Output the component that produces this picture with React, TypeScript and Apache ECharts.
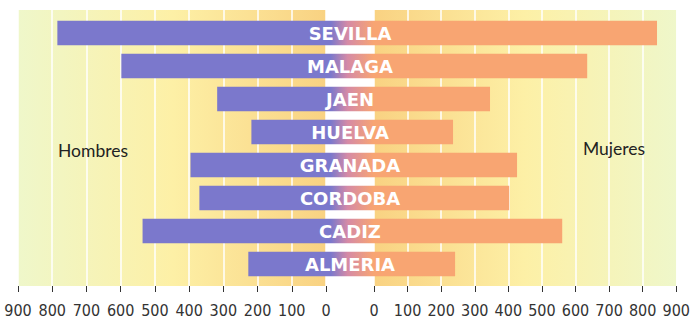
import React, { useEffect, useRef } from "react";
import * as echarts from "echarts";

const categories = ["SEVILLA", "MALAGA", "JAEN", "HUELVA", "GRANADA", "CORDOBA", "CADIZ", "ALMERIA"];
const hombres = [785, 598, 318, 218, 396, 370, 536, 227];
const mujeres = [827, 623, 339, 231, 418, 395, 550, 237];
const connector = [1, 1, 1, 1, 1, 1, 1, 1];
const axisMin = 0;
const axisMax = 900;
const axisStep = 100;

const PURPLE = "#7b78cc";
const ORANGE = "#f8a572";
const tickFont = "'Liberation Sans Narrow', 'DejaVu Sans Condensed', Lato, sans-serif";

export default function App() {
  const ref = useRef<HTMLDivElement>(null);
  useEffect(() => {
    if (!ref.current) return;
    const chart = echarts.init(ref.current, null, { renderer: "svg" });
    const bgLeft = new echarts.graphic.LinearGradient(0, 0, 1, 0, [
      { offset: 0, color: "#eff7ca" },
      { offset: 0.5, color: "#fdf0a6" },
      { offset: 1, color: "#f9d282" },
    ]);
    const bgRight = new echarts.graphic.LinearGradient(0, 0, 1, 0, [
      { offset: 0, color: "#f9d282" },
      { offset: 0.5, color: "#fdf0a6" },
      { offset: 1, color: "#eff7ca" },
    ]);
    const valueAxisBg = (gridIndex: number, inverse: boolean) => ({
      gridIndex,
      type: "value",
      min: axisMin,
      max: axisMax,
      interval: axisStep,
      inverse,
      offset: 3,
      axisLine: { show: false },
      axisTick: { show: true, length: 6, lineStyle: { color: "#333", width: 1 } },
      axisLabel: { fontSize: 16, color: "#333", fontFamily: tickFont, margin: 13 },
      splitLine: { show: true, lineStyle: { color: "#ffffff", width: 1.5 } },
    });
    const hiddenValue = (gridIndex: number, inverse: boolean, max: number) => ({
      gridIndex,
      type: "value",
      min: 0,
      max,
      inverse,
      show: false,
      splitLine: { show: false },
    });
    const hiddenCat = (gridIndex: number) => ({
      gridIndex,
      type: "category",
      data: categories,
      inverse: true,
      show: false,
    });
    chart.setOption({
      animation: false,
      grid: [
        { left: 18, width: 308, top: 10, height: 276, show: true, borderWidth: 0, backgroundColor: bgLeft },
        { left: 18, width: 308, top: 16.5, height: 264 },
        { left: 374, width: 308, top: 10, height: 276, show: true, borderWidth: 0, backgroundColor: bgRight },
        { left: 374, width: 308, top: 16.5, height: 264 },
        { left: 326, width: 48, top: 16.5, height: 264 },
      ],
      xAxis: [
        valueAxisBg(0, true),
        hiddenValue(1, true, axisMax),
        valueAxisBg(2, false),
        hiddenValue(3, false, axisMax),
        hiddenValue(4, false, 1),
      ],
      yAxis: [
        { gridIndex: 0, type: "value", show: false, splitLine: { show: false } },
        hiddenCat(1),
        { gridIndex: 2, type: "value", show: false, splitLine: { show: false } },
        hiddenCat(3),
        hiddenCat(4),
      ],
      graphic: {
        elements: [
          {
            type: "text",
            left: 58,
            top: 141,
            z: 100,
            style: { text: "Hombres", fontSize: 17.5, fontFamily: "Lato, sans-serif", fill: "#222" },
          },
          {
            type: "text",
            left: 583,
            top: 139,
            z: 100,
            style: { text: "Mujeres", fontSize: 17.5, fontFamily: "Lato, sans-serif", fill: "#222" },
          },
        ],
      },
      series: [
        {
          name: "Hombres",
          type: "bar",
          xAxisIndex: 1,
          yAxisIndex: 1,
          data: hombres,
          barWidth: "74%",
          itemStyle: { color: PURPLE },
        },
        {
          name: "Mujeres",
          type: "bar",
          xAxisIndex: 3,
          yAxisIndex: 3,
          data: mujeres,
          barWidth: "74%",
          itemStyle: { color: ORANGE },
        },
        {
          name: "Provincia",
          type: "bar",
          xAxisIndex: 4,
          yAxisIndex: 4,
          data: connector,
          barWidth: "74%",
          itemStyle: {
            color: new echarts.graphic.LinearGradient(0, 0, 1, 0, [
              { offset: 0, color: PURPLE },
              { offset: 0.1, color: PURPLE },
              { offset: 0.45, color: "#d58aa6" },
              { offset: 1, color: ORANGE },
            ]),
          },
          label: {
            show: true,
            position: "inside",
            formatter: "{b}",
            color: "#ffffff",
            fontWeight: "bold",
            fontSize: 18,
            fontFamily: "'DejaVu Sans', sans-serif",
          },
          z: 5,
        },
      ],
    });
    return () => chart.dispose();
  }, []);
  return (
    <div
      ref={ref}
      style={{ position: "fixed", left: 0, top: 0, width: 693, height: 318, background: "#ffffff" }}
    />
  );
}
